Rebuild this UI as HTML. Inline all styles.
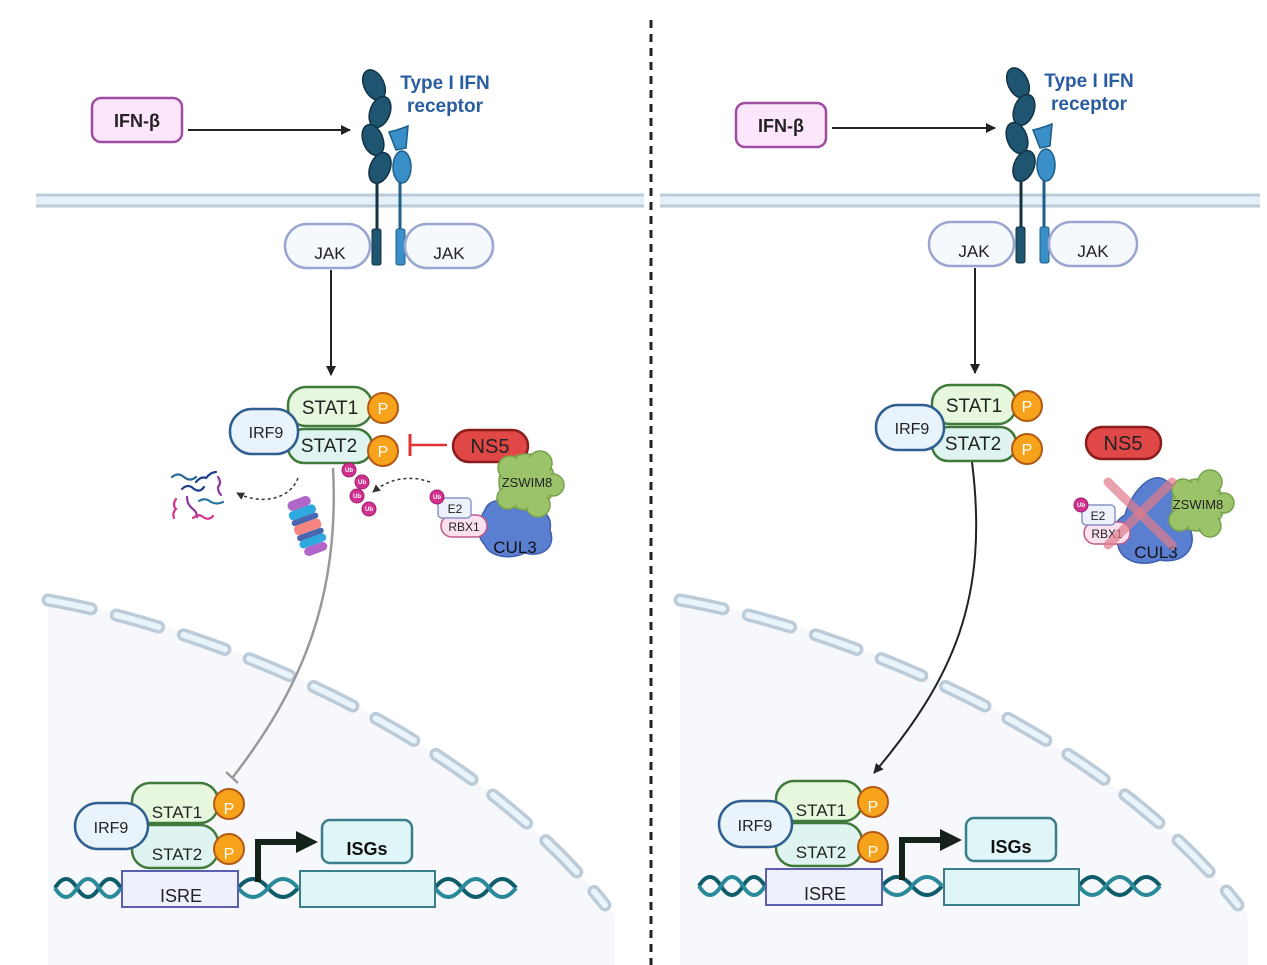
<!DOCTYPE html>
<html><head><meta charset="utf-8"><style>
html,body{margin:0;padding:0;background:#fff}
svg{display:block}
text{font-family:"Liberation Sans",sans-serif}
</style></head><body>
<svg width="1267" height="965" viewBox="0 0 1267 965" xmlns="http://www.w3.org/2000/svg">
<defs>
<marker id="ah" markerWidth="10" markerHeight="10" refX="9" refY="5" orient="auto" markerUnits="userSpaceOnUse"><path d="M0,0 L10,5 L0,10 Z" fill="#222"/></marker>
<marker id="ahs" markerWidth="8" markerHeight="8" refX="7" refY="4" orient="auto" markerUnits="userSpaceOnUse"><path d="M0,0 L8,4 L0,8 Z" fill="#333"/></marker>
</defs>

<line x1="651" y1="20" x2="651" y2="965" stroke="#222" stroke-width="3" stroke-dasharray="8,6"/>

<path d="M48,598 C200,625 460,720 615,915 L615,965 L48,965 Z" fill="#f6f8fc"/>
<path d="M680,598 C832,625 1092,720 1248,915 L1248,965 L680,965 Z" fill="#f6f8fc"/>
<g fill="none" stroke-linecap="round">
<path d="M48,600 C200,627 460,722 605,905" stroke="#bccbd8" stroke-width="13" stroke-dasharray="44,26"/>
<path d="M48,600 C200,627 460,722 605,905" stroke="#e8f3fa" stroke-width="6" stroke-dasharray="44,26"/>
<path d="M680,600 C832,627 1092,722 1238,905" stroke="#bccbd8" stroke-width="13" stroke-dasharray="44,26"/>
<path d="M680,600 C832,627 1092,722 1238,905" stroke="#e8f3fa" stroke-width="6" stroke-dasharray="44,26"/>
</g>

<rect x="36" y="194" width="608" height="13" fill="#e4f1f8"/>
<line x1="36" y1="195" x2="644" y2="195" stroke="#bccbd8" stroke-width="3"/>
<line x1="36" y1="206" x2="644" y2="206" stroke="#bccbd8" stroke-width="3"/>
<rect x="660" y="194" width="600" height="13" fill="#e4f1f8"/>
<line x1="660" y1="195" x2="1260" y2="195" stroke="#bccbd8" stroke-width="3"/>
<line x1="660" y1="206" x2="1260" y2="206" stroke="#bccbd8" stroke-width="3"/>

<!-- LEFT -->
<rect x="92" y="98" width="90" height="44" rx="9" fill="#fbe6fb" stroke="#a04ca0" stroke-width="2.5"/>
<text x="137" y="127" font-size="18" font-weight="bold" text-anchor="middle" fill="#222">IFN-β</text>
<line x1="188" y1="130" x2="350" y2="130" stroke="#222" stroke-width="2" marker-end="url(#ah)"/>

<g>
<line x1="377" y1="180" x2="377" y2="232" stroke="#14323f" stroke-width="3"/>
<line x1="400" y1="180" x2="400" y2="232" stroke="#1d5f8a" stroke-width="3"/>
<g fill="#1f5570" stroke="#123344" stroke-width="1.5">
<ellipse cx="374" cy="85" rx="10" ry="16" transform="rotate(-25 374 85)"/>
<ellipse cx="380" cy="112" rx="10" ry="16" transform="rotate(20 380 112)"/>
<ellipse cx="373" cy="140" rx="10" ry="16" transform="rotate(-20 373 140)"/>
<ellipse cx="380" cy="168" rx="10" ry="16" transform="rotate(22 380 168)"/>
</g>
<path d="M389,132 Q398,130 408,126 L406,148 L396,150 Z" fill="#3a8fc8" stroke="#1d5f8a" stroke-width="1.5"/>
<ellipse cx="402" cy="167" rx="9" ry="16" fill="#3a8fc8" stroke="#1d5f8a" stroke-width="1.5"/>
<rect x="372" y="229" width="9" height="36" rx="2" fill="#1f5570" stroke="#123344"/>
<rect x="396" y="229" width="9" height="36" rx="2" fill="#3a8fc8" stroke="#1d5f8a"/>
</g>
<text x="445" y="89" font-size="19" font-weight="bold" text-anchor="middle" fill="#2a5d9f">Type I IFN</text>
<text x="445" y="112" font-size="19" font-weight="bold" text-anchor="middle" fill="#2a5d9f">receptor</text>

<rect x="285" y="224" width="85" height="44" rx="22" fill="#f5f8fd" stroke="#9aa6cf" stroke-width="2.5"/>
<text x="330" y="259" font-size="17" text-anchor="middle" fill="#222">JAK</text>
<rect x="405" y="224" width="88" height="44" rx="22" fill="#f5f8fd" stroke="#9aa6cf" stroke-width="2.5"/>
<text x="449" y="259" font-size="17" text-anchor="middle" fill="#222">JAK</text>
<line x1="331" y1="270" x2="331" y2="375" stroke="#222" stroke-width="2" marker-end="url(#ah)"/>

<path d="M333,468 C340,600 300,690 233,777" fill="none" stroke="#999" stroke-width="2.5"/>
<line x1="226" y1="772" x2="238" y2="783" stroke="#999" stroke-width="2.5"/>

<rect x="288" y="429" width="84" height="34" rx="16" fill="#dff4f0" stroke="#3f7a3a" stroke-width="2.5"/>
<rect x="288" y="387" width="84" height="39" rx="18" fill="#e6f7de" stroke="#3f7a3a" stroke-width="2.5"/>
<text x="330" y="414" font-size="19" text-anchor="middle" fill="#222">STAT1</text>
<text x="329" y="452" font-size="19" text-anchor="middle" fill="#222">STAT2</text>
<rect x="230" y="409" width="68" height="45" rx="22" fill="#e8f3fb" stroke="#2f5f90" stroke-width="2.5"/>
<text x="266" y="438" font-size="16" text-anchor="middle" fill="#222">IRF9</text>
<circle cx="383" cy="408" r="15" fill="#f6a21a" stroke="#b35a14" stroke-width="2"/>
<text x="383" y="414" font-size="16" text-anchor="middle" fill="#fff">P</text>
<circle cx="383" cy="451" r="15" fill="#f6a21a" stroke="#b35a14" stroke-width="2"/>
<text x="383" y="457" font-size="16" text-anchor="middle" fill="#fff">P</text>

<line x1="410" y1="445" x2="447" y2="445" stroke="#d33" stroke-width="2.5"/>
<line x1="410" y1="434" x2="410" y2="456" stroke="#d33" stroke-width="3"/>
<rect x="453" y="430" width="75" height="32" rx="16" fill="#e04848" stroke="#8b1c1c" stroke-width="2.5"/>
<text x="490" y="453" font-size="20" text-anchor="middle" fill="#222">NS5</text>

<g fill="#d1318f" stroke="#a01e6c">
<circle cx="349" cy="470" r="7"/><circle cx="362" cy="482" r="7"/><circle cx="357" cy="496" r="7"/><circle cx="369" cy="509" r="7"/>
</g>
<g font-size="6" fill="#fff" text-anchor="middle" font-weight="bold">
<text x="349" y="472">Ub</text><text x="362" y="484">Ub</text><text x="357" y="498">Ub</text><text x="369" y="511">Ub</text>
</g>
<path d="M430,482 C410,475 390,478 373,492" fill="none" stroke="#333" stroke-width="1.5" stroke-dasharray="3,3" marker-end="url(#ahs)"/>
<path d="M298,478 C290,500 260,505 237,493" fill="none" stroke="#333" stroke-width="1.5" stroke-dasharray="3,3" marker-end="url(#ahs)"/>

<g fill="none" stroke-width="2.2" stroke-linecap="round">
<path d="M172,477 q6,-5 12,0 q6,5 12,0" stroke="#2a6a9a"/>
<path d="M196,482 q5,-6 10,-4 q5,-6 10,-6" stroke="#1e3f8a"/>
<path d="M182,489 q6,-6 12,0 q6,4 10,-2" stroke="#1e3f8a"/>
<path d="M218,477 q4,6 0,10 q0,5 3,8" stroke="#8a3aa0"/>
<path d="M176,499 q-4,6 0,10 q-4,4 -2,9" stroke="#d6338a"/>
<path d="M187,497 q0,8 6,12 q4,3 4,8" stroke="#8a3aa0"/>
<path d="M199,501 q6,-4 12,1 q6,3 12,0" stroke="#2a7aa0"/>
<path d="M193,518 q6,-5 10,-1 q6,4 10,-1" stroke="#d6338a"/>
</g>
<g transform="rotate(-20 307 525)">
<rect x="295" y="497" width="24" height="10" rx="5" fill="#b065c8"/>
<rect x="293" y="507" width="28" height="9" rx="4" fill="#2ea8de"/>
<rect x="293" y="516" width="28" height="6" rx="3" fill="#4a66b0"/>
<rect x="293" y="522" width="28" height="10" rx="4" fill="#f6857f"/>
<rect x="293" y="532" width="28" height="6" rx="3" fill="#4a66b0"/>
<rect x="293" y="538" width="28" height="8" rx="4" fill="#2ea8de"/>
<rect x="295" y="546" width="24" height="9" rx="5" fill="#b065c8"/>
</g>

<path d="M485,510 C490,495 515,500 525,507 C540,505 553,515 550,530 C556,545 545,558 525,553 C510,560 490,557 485,545 C475,535 478,520 485,510 Z" fill="#5b7fd0" stroke="#3e5fae" stroke-width="1.5"/>
<g fill="#9bc46a" stroke="#7aa24c" stroke-width="1.5">
<circle cx="527" cy="482" r="28"/>
<circle cx="510" cy="468" r="12"/><circle cx="540" cy="463" r="12"/><circle cx="553" cy="485" r="11"/><circle cx="538" cy="505" r="12"/><circle cx="508" cy="498" r="11"/>
</g>
<circle cx="527" cy="482" r="25" fill="#9bc46a"/>
<text x="527" y="487" font-size="13" text-anchor="middle" fill="#222">ZSWIM8</text>
<text x="515" y="553" font-size="17" text-anchor="middle" fill="#111">CUL3</text>
<rect x="441" y="515" width="46" height="22" rx="11" fill="#fbe0ee" stroke="#c05a8a" stroke-width="1.5"/>
<text x="464" y="531" font-size="12" text-anchor="middle" fill="#222">RBX1</text>
<rect x="438" y="498" width="33" height="20" rx="4" fill="#edf1fb" stroke="#8a96c8" stroke-width="1.5"/>
<text x="455" y="513" font-size="12" text-anchor="middle" fill="#222">E2</text>
<circle cx="437" cy="497" r="7" fill="#d1318f" stroke="#a01e6c"/>
<text x="437" y="499" font-size="6" text-anchor="middle" fill="#fff" font-weight="bold">Ub</text>

<g>
<path d="M55,888 q11,-18 22,0 t22,0 t22,0" fill="none" stroke="#0f5c6a" stroke-width="4"/>
<path d="M55,888 q11,18 22,0 t22,0 t22,0" fill="none" stroke="#2a8a9a" stroke-width="4"/>
<path d="M238,888 q15,-18 30,0 t30,0" fill="none" stroke="#0f5c6a" stroke-width="4"/>
<path d="M238,888 q15,18 30,0 t30,0" fill="none" stroke="#2a8a9a" stroke-width="4"/>
<path d="M435,888 q13,-18 27,0 t27,0 t27,0" fill="none" stroke="#0f5c6a" stroke-width="4"/>
<path d="M435,888 q13,18 27,0 t27,0 t27,0" fill="none" stroke="#2a8a9a" stroke-width="4"/>
<rect x="122" y="871" width="116" height="36" fill="#eef1fb" stroke="#5a5fb0" stroke-width="2"/>
<text x="181" y="902" font-size="18" text-anchor="middle" fill="#222">ISRE</text>
<rect x="300" y="871" width="135" height="36" fill="#dff5f7" stroke="#3c7d8a" stroke-width="2"/>
<rect x="322" y="820" width="90" height="43" rx="8" fill="#dff5f7" stroke="#3c7d8a" stroke-width="2.5"/>
<text x="367" y="855" font-size="18" font-weight="bold" text-anchor="middle" fill="#111">ISGs</text>
<path d="M258,882 L258,842 L298,842" fill="none" stroke="#14221a" stroke-width="6"/>
<path d="M296,831 L318,842 L296,853 Z" fill="#14221a"/>
<rect x="132" y="825" width="86" height="43" rx="18" fill="#dff4f0" stroke="#3f7a3a" stroke-width="2.5"/>
<rect x="132" y="783" width="86" height="40" rx="18" fill="#e6f7de" stroke="#3f7a3a" stroke-width="2.5"/>
<text x="177" y="818" font-size="17" text-anchor="middle" fill="#222">STAT1</text>
<text x="177" y="860" font-size="17" text-anchor="middle" fill="#222">STAT2</text>
<rect x="75" y="803" width="73" height="46" rx="23" fill="#e8f3fb" stroke="#2f5f90" stroke-width="2.5"/>
<text x="111" y="833" font-size="16" text-anchor="middle" fill="#222">IRF9</text>
<circle cx="229" cy="804" r="15" fill="#f6a21a" stroke="#b35a14" stroke-width="2"/>
<text x="229" y="814" font-size="16" text-anchor="middle" fill="#fff">P</text>
<circle cx="229" cy="849" r="15" fill="#f6a21a" stroke="#b35a14" stroke-width="2"/>
<text x="229" y="859" font-size="16" text-anchor="middle" fill="#fff">P</text>
</g>

<!-- RIGHT -->
<rect x="736" y="103" width="90" height="44" rx="9" fill="#fbe6fb" stroke="#a04ca0" stroke-width="2.5"/>
<text x="781" y="132" font-size="18" font-weight="bold" text-anchor="middle" fill="#222">IFN-β</text>
<line x1="832" y1="128" x2="995" y2="128" stroke="#222" stroke-width="2" marker-end="url(#ah)"/>

<g transform="translate(644,-2)">
<line x1="377" y1="180" x2="377" y2="232" stroke="#14323f" stroke-width="3"/>
<line x1="400" y1="180" x2="400" y2="232" stroke="#1d5f8a" stroke-width="3"/>
<g fill="#1f5570" stroke="#123344" stroke-width="1.5">
<ellipse cx="374" cy="85" rx="10" ry="16" transform="rotate(-25 374 85)"/>
<ellipse cx="380" cy="112" rx="10" ry="16" transform="rotate(20 380 112)"/>
<ellipse cx="373" cy="140" rx="10" ry="16" transform="rotate(-20 373 140)"/>
<ellipse cx="380" cy="168" rx="10" ry="16" transform="rotate(22 380 168)"/>
</g>
<path d="M389,132 Q398,130 408,126 L406,148 L396,150 Z" fill="#3a8fc8" stroke="#1d5f8a" stroke-width="1.5"/>
<ellipse cx="402" cy="167" rx="9" ry="16" fill="#3a8fc8" stroke="#1d5f8a" stroke-width="1.5"/>
<rect x="372" y="229" width="9" height="36" rx="2" fill="#1f5570" stroke="#123344"/>
<rect x="396" y="229" width="9" height="36" rx="2" fill="#3a8fc8" stroke="#1d5f8a"/>
<text x="445" y="89" font-size="19" font-weight="bold" text-anchor="middle" fill="#2a5d9f">Type I IFN</text>
<text x="445" y="112" font-size="19" font-weight="bold" text-anchor="middle" fill="#2a5d9f">receptor</text>
<rect x="285" y="224" width="85" height="44" rx="22" fill="#f5f8fd" stroke="#9aa6cf" stroke-width="2.5"/>
<text x="330" y="259" font-size="17" text-anchor="middle" fill="#222">JAK</text>
<rect x="405" y="224" width="88" height="44" rx="22" fill="#f5f8fd" stroke="#9aa6cf" stroke-width="2.5"/>
<text x="449" y="259" font-size="17" text-anchor="middle" fill="#222">JAK</text>
<line x1="331" y1="270" x2="331" y2="375" stroke="#222" stroke-width="2" marker-end="url(#ah)"/>

<path d="M328,464 C345,600 310,680 230,775" fill="none" stroke="#222" stroke-width="2" marker-end="url(#ah)"/>

<rect x="288" y="429" width="84" height="34" rx="16" fill="#dff4f0" stroke="#3f7a3a" stroke-width="2.5"/>
<rect x="288" y="387" width="84" height="39" rx="18" fill="#e6f7de" stroke="#3f7a3a" stroke-width="2.5"/>
<text x="330" y="414" font-size="19" text-anchor="middle" fill="#222">STAT1</text>
<text x="329" y="452" font-size="19" text-anchor="middle" fill="#222">STAT2</text>
<rect x="232" y="407" width="68" height="45" rx="22" fill="#e8f3fb" stroke="#2f5f90" stroke-width="2.5"/>
<text x="268" y="436" font-size="16" text-anchor="middle" fill="#222">IRF9</text>
<circle cx="383" cy="408" r="15" fill="#f6a21a" stroke="#b35a14" stroke-width="2"/>
<text x="383" y="414" font-size="16" text-anchor="middle" fill="#fff">P</text>
<circle cx="383" cy="451" r="15" fill="#f6a21a" stroke="#b35a14" stroke-width="2"/>
<text x="383" y="457" font-size="16" text-anchor="middle" fill="#fff">P</text>
</g>

<rect x="1086" y="427" width="75" height="32" rx="16" fill="#e04848" stroke="#8b1c1c" stroke-width="2.5"/>
<text x="1123" y="450" font-size="20" text-anchor="middle" fill="#222">NS5</text>

<path d="M1125,515 C1130,495 1150,470 1165,480 C1180,490 1190,500 1188,525 C1200,545 1185,565 1160,560 C1140,568 1120,560 1118,545 C1108,535 1115,520 1125,515 Z" fill="#5b7fd0" stroke="#3e5fae" stroke-width="1.5"/>
<g fill="#9bc46a" stroke="#7aa24c" stroke-width="1.5">
<circle cx="1198" cy="505" r="26"/>
<circle cx="1183" cy="490" r="11"/><circle cx="1210" cy="482" r="12"/><circle cx="1224" cy="503" r="10"/><circle cx="1210" cy="526" r="11"/><circle cx="1180" cy="520" r="11"/>
</g>
<circle cx="1198" cy="505" r="23" fill="#9bc46a"/>
<text x="1198" y="509" font-size="13" text-anchor="middle" fill="#222">ZSWIM8</text>
<text x="1156" y="558" font-size="17" text-anchor="middle" fill="#111">CUL3</text>
<rect x="1084" y="522" width="46" height="22" rx="11" fill="#fbe0ee" stroke="#c05a8a" stroke-width="1.5"/>
<text x="1107" y="538" font-size="12" text-anchor="middle" fill="#222">RBX1</text>
<rect x="1082" y="505" width="33" height="20" rx="4" fill="#edf1fb" stroke="#8a96c8" stroke-width="1.5"/>
<text x="1098" y="520" font-size="12" text-anchor="middle" fill="#222">E2</text>
<circle cx="1081" cy="505" r="7" fill="#d1318f" stroke="#a01e6c"/>
<text x="1081" y="507" font-size="6" text-anchor="middle" fill="#fff" font-weight="bold">Ub</text>
<g stroke="#e07a8a" stroke-opacity="0.7" stroke-width="9" stroke-linecap="round">
<line x1="1108" y1="482" x2="1172" y2="545"/>
<line x1="1172" y1="482" x2="1108" y2="545"/>
</g>

<g transform="translate(644,-2)">
<path d="M55,888 q11,-18 22,0 t22,0 t22,0" fill="none" stroke="#0f5c6a" stroke-width="4"/>
<path d="M55,888 q11,18 22,0 t22,0 t22,0" fill="none" stroke="#2a8a9a" stroke-width="4"/>
<path d="M238,888 q15,-18 30,0 t30,0" fill="none" stroke="#0f5c6a" stroke-width="4"/>
<path d="M238,888 q15,18 30,0 t30,0" fill="none" stroke="#2a8a9a" stroke-width="4"/>
<path d="M435,888 q13,-18 27,0 t27,0 t27,0" fill="none" stroke="#0f5c6a" stroke-width="4"/>
<path d="M435,888 q13,18 27,0 t27,0 t27,0" fill="none" stroke="#2a8a9a" stroke-width="4"/>
<rect x="122" y="871" width="116" height="36" fill="#eef1fb" stroke="#5a5fb0" stroke-width="2"/>
<text x="181" y="902" font-size="18" text-anchor="middle" fill="#222">ISRE</text>
<rect x="300" y="871" width="135" height="36" fill="#dff5f7" stroke="#3c7d8a" stroke-width="2"/>
<rect x="322" y="820" width="90" height="43" rx="8" fill="#dff5f7" stroke="#3c7d8a" stroke-width="2.5"/>
<text x="367" y="855" font-size="18" font-weight="bold" text-anchor="middle" fill="#111">ISGs</text>
<path d="M258,882 L258,842 L298,842" fill="none" stroke="#14221a" stroke-width="6"/>
<path d="M296,831 L318,842 L296,853 Z" fill="#14221a"/>
<rect x="132" y="825" width="86" height="43" rx="18" fill="#dff4f0" stroke="#3f7a3a" stroke-width="2.5"/>
<rect x="132" y="783" width="86" height="40" rx="18" fill="#e6f7de" stroke="#3f7a3a" stroke-width="2.5"/>
<text x="177" y="818" font-size="17" text-anchor="middle" fill="#222">STAT1</text>
<text x="177" y="860" font-size="17" text-anchor="middle" fill="#222">STAT2</text>
<rect x="75" y="803" width="73" height="46" rx="23" fill="#e8f3fb" stroke="#2f5f90" stroke-width="2.5"/>
<text x="111" y="833" font-size="16" text-anchor="middle" fill="#222">IRF9</text>
<circle cx="229" cy="804" r="15" fill="#f6a21a" stroke="#b35a14" stroke-width="2"/>
<text x="229" y="814" font-size="16" text-anchor="middle" fill="#fff">P</text>
<circle cx="229" cy="849" r="15" fill="#f6a21a" stroke="#b35a14" stroke-width="2"/>
<text x="229" y="859" font-size="16" text-anchor="middle" fill="#fff">P</text>
</g>
</svg>
</body></html>
